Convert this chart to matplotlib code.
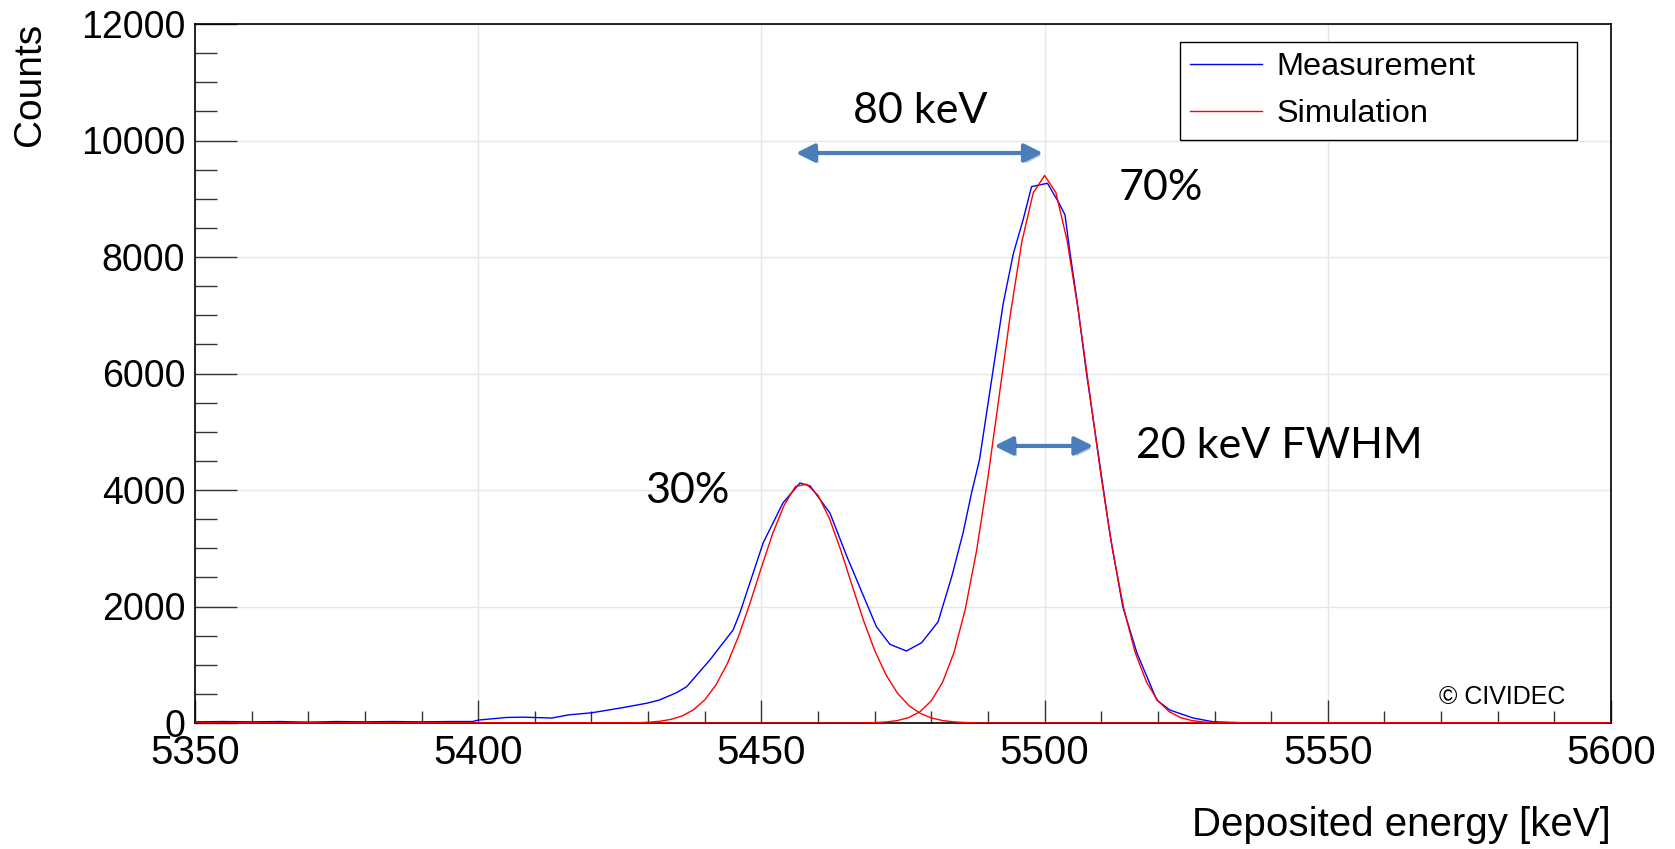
import matplotlib.pyplot as plt
from matplotlib.ticker import MultipleLocator
import matplotlib.patheffects as pe

meas_energy = [5350, 5355, 5360, 5365, 5370, 5375, 5380, 5385, 5390, 5395, 5399,
               5400, 5405, 5408, 5413, 5416, 5420, 5425, 5429.8, 5432, 5435,
               5436.8, 5440.9, 5445, 5446.2, 5450.3, 5453.8, 5456.8, 5458.6,
               5462.1, 5465.1, 5470.3, 5472.7, 5475.6, 5478.3, 5481.2, 5483.6,
               5485.6, 5487.1, 5488.5, 5491, 5492.7, 5494.5, 5496.2, 5497.7,
               5500.5, 5502.4, 5503.6, 5504.5, 5505.7, 5507.4, 5509.8, 5510.4,
               5511.5, 5513.8, 5516.3, 5519.8, 5522.1, 5526.2, 5529.7, 5535,
               5545, 5560, 5575, 5590, 5600]
meas_counts = [20, 25, 20, 25, 15, 25, 20, 25, 20, 25, 25,
               50, 95, 100, 85, 140, 175, 255, 340, 395, 520,
               623, 1082, 1597, 1888, 3090, 3777, 4120, 4070,
               3605, 2856, 1654, 1350, 1236, 1379, 1739, 2512,
               3262, 3949, 4516, 6118, 7206, 8065, 8637, 9208,
               9266, 8951, 8722, 8065, 7263, 6004, 4401, 4000,
               3262, 1997, 1202, 395, 223, 86, 22, 5,
               0, 5, 0, 5, 0]

# Simulation, 30 % line
sim_a_energy = [5350, 5422] + list(range(5424, 5492, 2)) + [5600]
sim_a_counts = [0, 0, 1, 2, 5, 13, 29, 61, 121, 226, 397, 657, 1022, 1497,
                2061, 2670, 3256, 3735, 4060, 4100, 3909, 3514, 2971, 2364,
                1770, 1246, 826, 515, 302, 167, 87, 42, 19, 8, 3, 1, 0]

# Simulation, 70 % line
sim_b_energy = [5350, 5464] + list(range(5466, 5536, 2)) + [5600]
sim_b_counts = [0, 0, 1, 3, 7, 18, 42, 93, 194, 381, 701, 1209, 1955, 2965,
                4220, 5627, 7046, 8270, 9104, 9400, 9104, 8270, 7046, 5627,
                4220, 2965, 1955, 1209, 701, 381, 194, 93, 42, 18, 7, 3, 1, 0]

W, H = 1675, 849
fig = plt.figure(figsize=(W / 100, H / 100), dpi=100)
ax = fig.add_axes([195 / W, 1 - 723 / H, (1611 - 195) / W, (723 - 24) / H])

plt.rcParams['font.family'] = ['Liberation Sans', 'DejaVu Sans']

ax.plot(meas_energy, meas_counts, color='#0000ff', lw=1.0, label='Measurement', zorder=3)
ax.plot(sim_a_energy, sim_a_counts, color='#ff0000', lw=1.0, label='Simulation', zorder=3)
ax.plot(sim_b_energy, sim_b_counts, color='#ff0000', lw=1.0, zorder=3)

ax.set_xlim(5350, 5600)
ax.set_ylim(0, 12000)
ax.xaxis.set_major_locator(MultipleLocator(50))
ax.xaxis.set_minor_locator(MultipleLocator(10))
ax.yaxis.set_major_locator(MultipleLocator(2000))
ax.yaxis.set_minor_locator(MultipleLocator(500))
ax.grid(True, which='major', color='#e6e6e6', lw=1.0, zorder=0)
ax.set_axisbelow(True)

ax.tick_params(axis='both', which='both', direction='in', color='#333333', width=1.0,
               top=False, right=False)
ax.tick_params(axis='y', which='major', length=30, pad=7, labelsize=27)
ax.tick_params(axis='y', which='minor', length=16)
ax.tick_params(axis='x', which='major', length=16.5, pad=8, labelsize=29)
ax.tick_params(axis='x', which='minor', length=8.6)
for lab in ax.get_xticklabels() + ax.get_yticklabels():
    lab.set_family('Liberation Sans')
for s in ax.spines.values():
    s.set_linewidth(1.2)
    s.set_color('black')

fig.text(30 / W, 1 - 23 / H, 'Counts', rotation=90, ha='center', va='top',
         fontsize=28, family='Liberation Sans')
fig.text(1611 / W, 1 - 836 / H, 'Deposited energy [keV]', ha='right', va='baseline',
         fontsize=29, family='Liberation Sans')

leg = ax.legend(loc='upper left',
                bbox_to_anchor=(1180 / W, 1 - 137 / H, (1577 - 1180) / W, (137 - 41.7) / H),
                bbox_transform=fig.transFigure, mode='expand',
                prop={'family': 'Liberation Sans', 'size': 23.4},
                frameon=True, fancybox=False, framealpha=1, edgecolor='black',
                handlelength=2.2, handletextpad=0.46, labelspacing=0.53,
                borderpad=0.32, borderaxespad=0)
leg.get_frame().set_linewidth(1.0)

# annotations added on the slide
arrow_col = '#4A7EBB'
shadow = [pe.SimplePatchShadow(offset=(2, -2), alpha=0.25), pe.Normal()]
for x0, x1, yv in [(5456.1, 5499.7, 9785), (5491.1, 5508.6, 4756)]:
    ax.annotate('', xy=(x1, yv), xytext=(x0, yv),
                arrowprops=dict(arrowstyle='<|-|>,head_length=0.5,head_width=0.25',
                                mutation_scale=22, lw=3, color=arrow_col,
                                shrinkA=0, shrinkB=0, path_effects=shadow),
                zorder=5)

note_font = ['Lato', 'DejaVu Sans']
ax.text(5478.0, 10500, '80 keV', ha='center', va='center', fontsize=31, family=note_font)
ax.text(5520.5, 9185, '70%', ha='center', va='center', fontsize=31, family=note_font)
ax.text(5437.0, 3980, '30%', ha='center', va='center', fontsize=31, family=note_font)
ax.text(5516.2, 4750, '20 keV FWHM', ha='left', va='center', fontsize=31, family=note_font)
ax.text(5580.8, 450, '\u00a9 CIVIDEC', ha='center', va='center', fontsize=18,
        family='Liberation Sans')

plt.savefig('out.png', dpi=100)
plt.close()
